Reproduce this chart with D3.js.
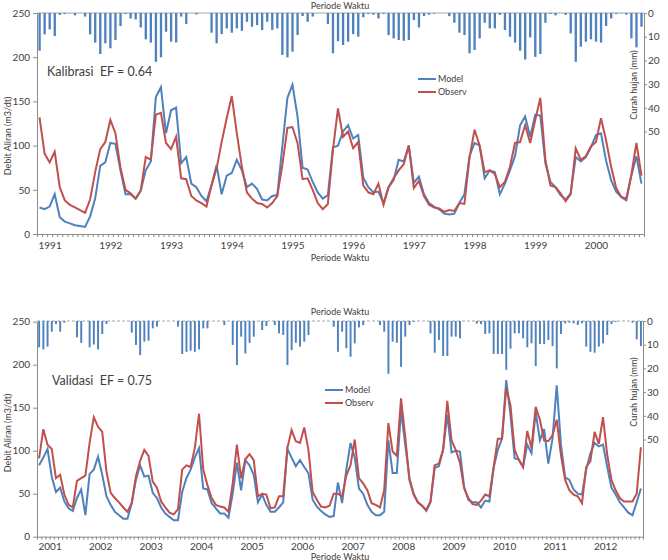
<!DOCTYPE html>
<html>
<head>
<meta charset="utf-8">
<script src="https://cdn.jsdelivr.net/npm/d3@7"></script>
<style>
  body { margin: 0; background: #fff; }
  text { font-family: Lato, "Open Sans", sans-serif; fill: #404040; }
</style>
</head>
<body>
<div id="chart"></div>
<script>

  // Data - monthly values

  var calibYears = [1991, 1992, 1993, 1994, 1995, 1996, 1997, 1998, 1999, 2000];
  var validYears = [2001, 2002, 2003, 2004, 2005, 2006, 2007, 2008, 2009, 2010, 2011, 2012];
  var flowTicks = [0, 50, 100, 150, 200, 250];
  var rainTicks = [0, 10, 20, 30, 40, 50];

  var calibModel = [30, 28, 31, 45, 19, 14, 12, 10, 9, 8, 20, 40,
    77, 81, 103, 102, 72, 45, 45, 40, 49, 72, 82, 155,
    166, 114, 140, 143, 80, 87, 57, 53, 43, 37, 55, 78,
    45, 66, 69, 84, 72, 53, 57, 51, 39, 38, 43, 44,
    99, 154, 169, 133, 75, 73, 59, 47, 40, 44, 98, 100,
    116, 123, 108, 112, 64, 53, 47, 48, 35, 53, 61, 84,
    82, 100, 58, 65, 45, 35, 31, 28, 23, 22, 23, 35,
    45, 88, 103, 100, 63, 72, 70, 45, 57, 72, 88, 123,
    133, 110, 135, 134, 80, 59, 53, 44, 39, 46, 87, 82,
    87, 98, 112, 114, 83, 61, 48, 42, 38, 66, 88, 57];

  var calibObs = [132, 91, 81, 93, 53, 38, 33, 30, 27, 24, 39, 70,
    96, 104, 129, 114, 75, 50, 46, 40, 49, 87, 84, 135,
    137, 103, 96, 110, 63, 62, 43, 38, 35, 31, 55, 74,
    104, 131, 156, 114, 76, 47, 40, 35, 34, 30, 35, 43,
    78, 120, 121, 103, 62, 63, 50, 35, 28, 34, 95, 142,
    110, 116, 97, 104, 55, 47, 45, 57, 33, 53, 63, 72,
    79, 100, 52, 60, 43, 33, 30, 29, 25, 27, 26, 35,
    34, 86, 118, 100, 70, 72, 68, 53, 59, 76, 103, 104,
    123, 103, 129, 154, 84, 55, 53, 46, 37, 45, 97, 84,
    88, 99, 104, 131, 106, 76, 52, 42, 40, 67, 103, 66];

  var calibRain = [15.9, 9, 6.9, 9.7, 0.8, 0.4, 0.1, 1, 0, 1.5, 9, 12.5,
    17.3, 12.8, 14.9, 11.4, 5.5, 0.4, 2.3, 2.7, 6.1, 11.1, 12.5, 20.6,
    18.7, 7.9, 12.1, 12.4, 1.5, 4.6, 0, 0.6, 0, 0, 8.3, 12.8,
    8.9, 6.5, 8.3, 6.5, 7.5, 3.7, 5.8, 5.1, 7.2, 3.7, 7.2, 6.5,
    17.7, 18.7, 16.3, 9.3, 1.3, 3.7, 1.5, 0, 0, 4.6, 17, 11.9,
    13.5, 12.1, 8.9, 10, 1.8, 0.4, 0.7, 2.3, 0.4, 9.3, 10.7, 11.4,
    11.7, 11.4, 3, 6.1, 1.3, 0.7, 0.3, 0, 0, 1.3, 4.1, 8.3,
    9.3, 17, 15.6, 10.7, 4.1, 6.5, 6.5, 0.8, 7.2, 10, 12.5, 15.9,
    19.6, 10.3, 18.5, 17.3, 4.1, 0.4, 1, 0, 0.8, 8.6, 20.6, 14.2,
    12.1, 11.1, 12.1, 12.5, 5.5, 2.3, 0.4, 0.1, 0.7, 10.7, 14.5, 5.8];

  var validModel = [83, 92, 102, 70, 52, 57, 41, 33, 30, 45, 55, 25,
    73, 78, 93, 72, 47, 37, 29, 25, 21, 21, 39, 66,
    83, 70, 71, 51, 45, 34, 27, 23, 19, 19, 52, 68,
    78, 92, 103, 56, 55, 39, 33, 27, 27, 22, 50, 86,
    54, 89, 83, 72, 40, 49, 37, 29, 29, 34, 40, 102,
    92, 82, 89, 81, 74, 43, 35, 30, 26, 23, 24, 63,
    39, 78, 109, 92, 56, 50, 37, 29, 25, 25, 29, 112,
    74, 74, 147, 107, 68, 50, 40, 36, 30, 40, 80, 82,
    101, 142, 98, 100, 99, 58, 43, 40, 40, 34, 42, 41,
    80, 101, 114, 182, 142, 91, 90, 81, 107, 97, 145, 112,
    125, 85, 114, 176, 107, 69, 66, 55, 50, 49, 78, 97,
    109, 105, 107, 81, 57, 49, 40, 34, 28, 25, 40, 56];

  var validObs = [91, 125, 107, 102, 68, 72, 49, 37, 34, 65, 68, 71,
    109, 139, 128, 122, 76, 51, 45, 40, 34, 29, 39, 70,
    88, 101, 94, 64, 57, 41, 34, 28, 26, 32, 78, 83,
    81, 103, 143, 78, 60, 45, 37, 35, 34, 29, 62, 107,
    68, 90, 96, 89, 47, 50, 49, 33, 34, 47, 47, 103,
    124, 111, 109, 127, 101, 52, 43, 35, 34, 36, 50, 50,
    47, 71, 83, 113, 68, 62, 54, 39, 37, 34, 54, 132,
    99, 94, 161, 116, 66, 49, 40, 36, 31, 41, 83, 85,
    101, 158, 112, 101, 86, 56, 45, 38, 37, 42, 49, 47,
    81, 114, 114, 173, 153, 101, 89, 81, 123, 103, 151, 136,
    112, 111, 118, 136, 95, 66, 54, 49, 47, 39, 81, 88,
    122, 108, 139, 95, 66, 54, 45, 41, 41, 41, 50, 104];

  var validRain = [11.1, 12, 10.8, 4.5, 1.3, 4.5, 0.7, 0, 0, 6.9, 9.2, 0,
    11.1, 9.9, 12, 5.5, 1.3, 0, 0, 0, 0, 0, 4.9, 10.1,
    14.4, 8.7, 8.3, 3.1, 2.4, 0, 0, 0, 0, 2.4, 13.9, 13,
    12.5, 13, 12, 3.1, 3.1, 0, 0, 0, 1.7, 0, 10.1, 18.6,
    6.6, 13.7, 9.2, 6.6, 0, 3.8, 2.1, 0, 1.7, 5.2, 5.9, 18.6,
    12.3, 9.2, 10.8, 8.7, 5.9, 0, 0, 0, 0, 0, 2.4, 13,
    4.5, 11.5, 15.1, 9.4, 2.7, 1.7, 0, 0, 0, 1.7, 4.5, 22.3,
    8.7, 9.2, 19.3, 6.6, 1.7, 0.4, 0, 0, 0, 5.2, 13.4, 8,
    14.8, 14.8, 6.6, 6.6, 7.3, 0, 0, 0, 1.1, 1.3, 5.5, 5.2,
    13.9, 13.9, 13.9, 20.6, 11.7, 5.2, 5.2, 7.3, 11.1, 9.4, 19, 9.7,
    9.7, 8, 10.6, 20, 5.5, 1, 0.7, 1, 1.7, 1, 10.8, 13,
    13.4, 10.8, 9.4, 5.9, 1.3, 0.4, 0, 0, 0, 0.7, 7.7, 10.6];

  var modelColor = "#4f81bd",
      obsColor = "#c0504d",
      axisColor = "#8c8c8c";

  var svg = d3.select("#chart")
      .append("svg")
      .attr("width", 668)
      .attr("height", 560);

  // Draw one panel (flow lines + hanging rain bars)

  function drawPanel(p) {
    var n = p.model.length;
    var g = svg.append("g");

    var xScale = d3.scaleBand()
        .domain(d3.range(n))
        .range([p.left, p.right]);
    var bw = xScale.bandwidth();

    // boundaries of the months, for the minor ticks
    var xEdge = d3.scaleLinear()
        .domain([0, n])
        .range([p.left, p.right]);

    var yScale = d3.scaleLinear()
        .domain([0, 250])
        .range([p.bottom, p.top]);

    var rScale = d3.scaleLinear()
        .domain([0, (p.bottom - p.rainTop) / 2.37])
        .range([p.rainTop, p.bottom]);

    // top border
    g.append("line")
      .attr("x1", p.left).attr("x2", p.right)
      .attr("y1", p.rainTop).attr("y2", p.rainTop)
      .attr("stroke", "#a6a6a6")
      .attr("stroke-dasharray", p.dash);

    // rain bars
    g.selectAll(".rain")
      .data(p.rain)
      .enter().append("rect")
      .attr("class", "rain")
      .attr("x", function(d, i) { return xScale(i) + bw * 0.28; })
      .attr("width", bw * 0.46)
      .attr("y", p.rainTop)
      .attr("height", function(d) { return rScale(d) - p.rainTop; })
      .attr("fill", modelColor);

    // axes
    var yAxis = g.append("g")
      .attr("transform", `translate(${p.left}, 0)`)
      .call(d3.axisLeft(yScale).tickValues(flowTicks).tickSize(4).tickSizeOuter(0).tickPadding(3));

    var rAxis = g.append("g")
      .attr("transform", `translate(${p.right}, 0)`)
      .call(d3.axisRight(rScale).tickValues(rainTicks).tickSize(3).tickSizeOuter(0).tickPadding(1));

    var minor = g.append("g")
      .attr("transform", `translate(0, ${p.bottom})`)
      .call(d3.axisBottom(xEdge).tickValues(d3.range(n + 1)).tickSize(3).tickSizeOuter(0).tickFormat(""));

    var years = g.append("g")
      .attr("transform", `translate(0, ${p.bottom})`)
      .call(d3.axisBottom(xEdge)
        .tickValues(d3.range(0, n, 12))
        .tickSize(0)
        .tickFormat(function(d) { return p.years[d / 12]; }));
    years.select(".domain").remove();
    years.selectAll("text")
      .attr("text-anchor", "start")
      .attr("x", 1)
      .attr("y", p.yearDy)
      .attr("dy", 0)
      .attr("font-size", "10px");

    [yAxis, rAxis, minor].forEach(function(a) {
      a.selectAll("path, line").attr("stroke", axisColor);
      a.selectAll("text").attr("font-size", "10px").attr("fill", "#404040");
    });
    g.selectAll(".tick text").style("font-family", "Lato, sans-serif");

    // lines
    var line = d3.line()
      .x(function(d, i) { return xScale(i) + bw / 2; })
      .y(function(d) { return yScale(d); });

    g.append("path")
      .datum(p.model)
      .attr("d", line)
      .attr("fill", "none")
      .attr("stroke", modelColor)
      .attr("stroke-width", 2);

    g.append("path")
      .datum(p.obs)
      .attr("d", line)
      .attr("fill", "none")
      .attr("stroke", obsColor)
      .attr("stroke-width", 2);

    // labels
    g.append("text")
      .attr("x", 340).attr("y", p.titleY)
      .attr("text-anchor", "middle")
      .attr("font-size", "9px")
      .text("Periode Waktu");

    g.append("text")
      .attr("x", 340).attr("y", p.xTitleY)
      .attr("text-anchor", "middle")
      .attr("font-size", "9px")
      .text("Periode Waktu");

    g.append("text")
      .attr("transform", `translate(11, ${p.yLabelY}) rotate(-90)`)
      .attr("text-anchor", "middle")
      .attr("font-size", "9px")
      .text("Debit Aliran (m3/dt)");

    g.append("text")
      .attr("transform", `translate(637, ${p.rLabelY}) rotate(-90)`)
      .attr("text-anchor", "middle")
      .attr("font-size", "9px")
      .text("Curah hujan (mm)");

    g.append("text")
      .attr("x", p.note[0]).attr("y", p.note[1])
      .attr("font-size", "12.5px")
      .attr("fill", "#000")
      .style("white-space", "pre")
      .text(p.noteText);

    // legend
    var legend = g.append("g")
      .attr("transform", `translate(${p.legend[0]}, ${p.legend[1]})`);
    [["Model", modelColor], ["Observ", obsColor]].forEach(function(d, i) {
      legend.append("line")
        .attr("x1", 0).attr("x2", 18)
        .attr("y1", i * 13).attr("y2", i * 13)
        .attr("stroke", d[1])
        .attr("stroke-width", 2);
      legend.append("text")
        .attr("x", 20).attr("y", i * 13 + 3)
        .attr("font-size", "9px")
        .text(d[0]);
    });
  }

  drawPanel({
    model: calibModel, obs: calibObs, rain: calibRain, years: calibYears,
    left: 37, right: 644, top: 13, rainTop: 13, bottom: 234, dash: null,
    yearDy: 15, titleY: 9, xTitleY: 261, yLabelY: 136, rLabelY: 85,
    note: [47, 76], noteText: "Kalibrasi  EF = 0.64",
    legend: [418, 79]
  });

  drawPanel({
    model: validModel, obs: validObs, rain: validRain, years: validYears,
    left: 37, right: 643, top: 321.7, rainTop: 321, bottom: 536.7, dash: "3,2",
    yearDy: 13, titleY: 315, xTitleY: 559.5, yLabelY: 433, rLabelY: 392,
    note: [52, 385], noteText: "Validasi  EF = 0.75",
    legend: [325, 390]
  });

</script>
</body>
</html>
